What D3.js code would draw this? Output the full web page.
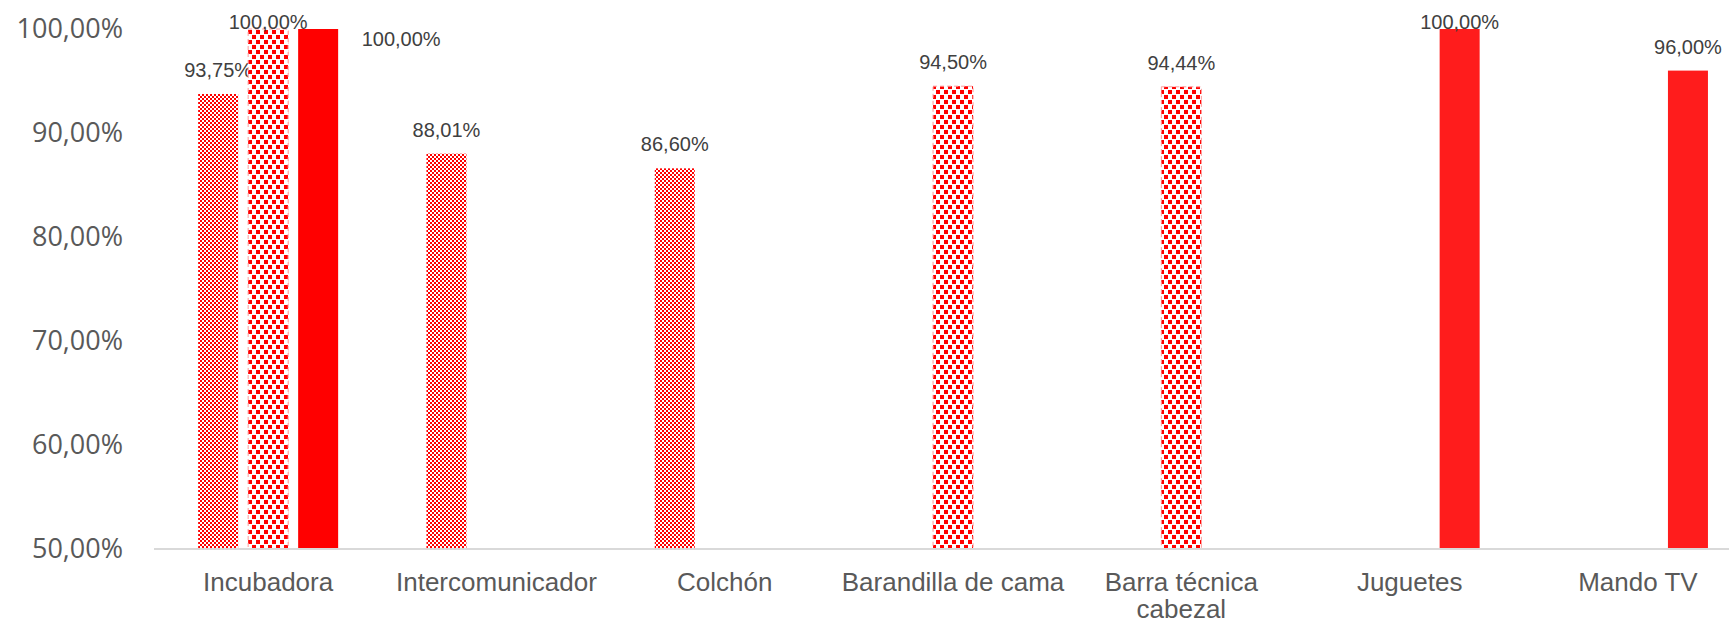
<!DOCTYPE html>
<html>
<head>
<meta charset="utf-8">
<script src="https://cdn.jsdelivr.net/npm/d3@7"></script>
<style>
  html, body { margin: 0; padding: 0; background: #fff; }
  svg { display: block; }
</style>
</head>
<body>
<svg id="chart" width="1729" height="623"></svg>
<script>
// ---- data ----
const categories = ["Incubadora", "Intercomunicador", "Colchón", "Barandilla de cama", "Barra técnica\ncabezal", "Juguetes", "Mando TV"];
const seriesNames = ["s1", "s2", "s3"];
const series1 = [0.9375, 0.8801, 0.8660, null, null, null, null];
const series2 = [1.0000, null, null, 0.9450, 0.9444, null, null];
const series3 = [1.0000, null, null, null, null, 1.0000, 0.9600];
const yTicks = [0.5, 0.6, 0.7, 0.8, 0.9, 1.0];

// ---- layout ----
const svg = d3.select("#chart");
const W = 1729, H = 623;
const left = 154, bandW = 228.3;
const yTop = 29, yBottom = 549;

const x = d3.scaleBand().domain(categories).range([left, left + bandW * categories.length]).paddingInner(0).paddingOuter(0);
const xs = d3.scaleBand().domain(seriesNames).range([-75, 75]).paddingInner(0.2).paddingOuter(0.1);
const y = d3.scaleLinear().domain([0.5, 1.0]).range([yBottom, yTop]);

const fmt = v => (v * 100).toFixed(2).replace(".", ",") + "%";

// ---- patterns ----
const defs = svg.append("defs");
const p1 = defs.append("pattern").attr("id", "pat1").attr("patternUnits", "userSpaceOnUse").attr("width", 4).attr("height", 4);
p1.append("rect").attr("width", 4).attr("height", 4).attr("fill", "#fff");
p1.append("rect").attr("x", 0).attr("y", 0).attr("width", 2).attr("height", 2).attr("fill", "#ff0000");
p1.append("rect").attr("x", 2).attr("y", 2).attr("width", 2).attr("height", 2).attr("fill", "#ff0000");

const p2 = defs.append("pattern").attr("id", "pat2").attr("patternUnits", "userSpaceOnUse").attr("width", 8).attr("height", 10);
p2.append("rect").attr("width", 8).attr("height", 10).attr("fill", "#fff");
p2.append("rect").attr("x", 0).attr("y", 0).attr("width", 4).attr("height", 4).attr("fill", "#ff0000");
p2.append("rect").attr("x", 4).attr("y", 5).attr("width", 4).attr("height", 4).attr("fill", "#ff0000");

// ---- y axis labels ----
const yAxis = d3.axisLeft(y).tickValues(yTicks).tickFormat(fmt).tickSize(0).tickPadding(0);
const gy = svg.append("g").attr("transform", "translate(123,0)").call(yAxis);
gy.select(".domain").remove();
gy.selectAll("text")
  .attr("font-family", "'Open Sans', sans-serif")
  .attr("font-size", 27)
  .attr("fill", "#595959")
  .attr("dy", "0.31em");

// ---- bars ----
const seriesData = [series1, series2, series3];
const fills = ["url(#pat1)", "url(#pat2)", "#ff0000"];
const gBars = svg.append("g");
seriesData.forEach((vals, si) => {
  const pts = vals.map((v, i) => ({ v, c: categories[i], i })).filter(d => d.v != null);
  gBars.selectAll(null).data(pts).enter().append("rect")
    .attr("x", d => x(d.c) + x.bandwidth() / 2 + xs(seriesNames[si]))
    .attr("y", d => y(d.v))
    .attr("width", xs.bandwidth())
    .attr("height", d => y(0.5) - y(d.v))
    .attr("fill", d => (si === 2 && d.i > 0) ? "#ff1c1c" : fills[si])
    .attr("stroke", si === 1 ? "#ff9a9a" : "none")
    .attr("stroke-width", si === 1 ? 1 : 0)
    .attr("stroke-dasharray", si === 1 ? "4,3" : null);

  gBars.selectAll(null).data(pts).enter().append("text")
    .attr("x", d => x(d.c) + x.bandwidth() / 2 + xs(seriesNames[si]) + xs.bandwidth() / 2 + ((si === 2 && d.i === 0) ? 83 : 0))
    .attr("y", d => (si === 2 && d.i === 0) ? y(d.v) + 17 : Math.max(y(d.v) - 17, yTop))
    .attr("text-anchor", "middle")
    .attr("font-family", "'Liberation Sans', Arial, sans-serif")
    .attr("font-size", 20)
    .attr("fill", "#404040")
    .text(d => fmt(d.v));
});

// ---- x axis ----
svg.append("line")
  .attr("x1", left).attr("x2", W)
  .attr("y1", y(0.5)).attr("y2", y(0.5))
  .attr("stroke", "#d9d9d9").attr("stroke-width", 2);

const gx = svg.append("g");
categories.forEach(c => {
  const lines = c.split("\n");
  const t = gx.append("text")
    .attr("x", x(c) + x.bandwidth() / 2)
    .attr("y", 591)
    .attr("text-anchor", "middle")
    .attr("font-family", "'Liberation Sans', Arial, sans-serif")
    .attr("font-size", 26)
    .attr("fill", "#595959");
  lines.forEach((l, k) => {
    t.append("tspan").attr("x", x(c) + x.bandwidth() / 2).attr("dy", k === 0 ? 0 : 27).text(l);
  });
});
</script>
</body>
</html>
